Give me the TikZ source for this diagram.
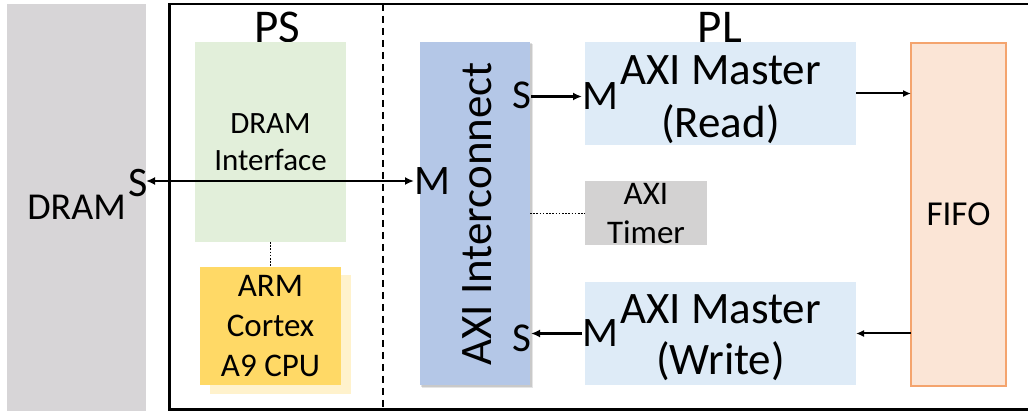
\documentclass[tikz,border=0pt]{standalone}
\usepackage{fontspec}
\setmainfont{Carlito}
\usetikzlibrary{arrows.meta}

\definecolor{dramgray}{HTML}{D7D5D7}
\definecolor{ifgreen}{HTML}{E2EFDA}
\definecolor{cpuyellow}{HTML}{FFD966}
\definecolor{cpushade}{HTML}{FFF2CC}
\definecolor{icblue}{HTML}{B4C7E7}
\definecolor{mstblue}{HTML}{DEEBF7}
\definecolor{timergray}{HTML}{D3D2D2}
\definecolor{fifofill}{HTML}{FBE5D6}
\definecolor{fifoedge}{HTML}{F4A46E}

\newcommand\fsz[2]{\fontsize{#1}{#2}\selectfont}

\tikzset{
  blockbox/.style={inner sep=0pt, outer sep=0pt, align=center},
  port/.style={inner sep=0pt, outer sep=0pt, font=\fsz{42}{50}},
  frameline/.style={line width=2.5pt},
  bus/.style={line width=2.5pt, -{Latex[length=9pt,width=8pt]}},
  busboth/.style={line width=2.5pt, {Latex[length=9pt,width=8pt]}-{Latex[length=9pt,width=8pt]}},
  flow/.style={line width=2pt, -{Latex[length=8pt,width=7pt]}},
  dotlink/.style={line width=1.6pt, dash pattern=on 1.6pt off 1.6pt},
}

\begin{document}
\begin{tikzpicture}[x=1pt,y=-1pt]
\useasboundingbox (0,0) rectangle (1028,411);

% external memory
\node[blockbox, fill=dramgray, minimum width=139, minimum height=407, font=\fsz{38}{45}] (dram) at (76.5,207.5) {DRAM};

% chip outline and PS / PL split
\draw[frameline] (1028,4) -- (169.5,4) -- (169.5,409.5) -- (1028,409.5);
\draw[line width=2pt, dash pattern=on 7pt off 5pt] (383,4) -- (383,409.5);
\node[inner sep=0pt, font=\fsz{47}{56}] (pslbl) at (277,27) {PS};
\node[inner sep=0pt, font=\fsz{47}{56}] (pllbl) at (720,27) {PL};

% processing system
\node[blockbox, fill=ifgreen, minimum width=151, minimum height=200, font=\fsz{31}{37}] (dri) at (270.5,142) {DRAM\\Interface};
\fill[cpushade] (210,275) rectangle (351,394);
\node[blockbox, fill=cpuyellow, minimum width=141, minimum height=118, font=\fsz{33}{40}] (arm) at (270.5,326) {ARM\\Cortex\\A9 CPU};

% interconnect with a soft drop shadow
\fill[black, opacity=0.10] (422,44) rectangle (533,388);
\fill[black, opacity=0.12] (421,43) rectangle (532,387);
\node[blockbox, fill=icblue, minimum width=110, minimum height=343] (ic) at (475,213.5) {};
\node[inner sep=0pt, rotate=90, font=\fsz{45}{54}] (ictext) at (477,214) {AXI Interconnect};

% programmable logic
\node[blockbox, fill=mstblue, minimum width=271, minimum height=103] (rd) at (720.5,93.5) {};
\node[inner sep=0pt, align=center, font=\fsz{45}{53}] (rdtext) at (720.5,100) {AXI Master\\(Read)};
\node[blockbox, fill=timergray, minimum width=122, minimum height=64, font=\fsz{33}{39}] (timer) at (646,213.5) {AXI\\Timer};
\node[blockbox, fill=mstblue, minimum width=271, minimum height=103] (wr) at (720.5,333.5) {};
\node[inner sep=0pt, align=center, font=\fsz{45}{51}] (wrtext) at (720.5,337.5) {AXI Master\\(Write)};
\node[blockbox, fill=fifofill, draw=fifoedge, line width=1.5pt, minimum width=95, minimum height=343, font=\fsz{35}{42}] (fifo) at (958.5,214.5) {FIFO};

% port labels
\node[port, anchor=east] (sdram) at (148,183.5) {S};
\node[port, anchor=west] (mic) at (414,181) {M};
\node[port, anchor=east, font=\fsz{41}{48}] (sicr) at (531,95.5) {S};
\node[port, anchor=west] (mrd) at (582,96.5) {M};
\node[port, anchor=east, font=\fsz{41}{48}] (sicw) at (531,338) {S};
\node[port, anchor=west] (mwr) at (582,333.5) {M};

% links
\draw[busboth] (dram.east |- mic.west) -- (mic.west);
\draw[bus] (sicr.east |- mrd.west) -- (mrd.west);
\draw[bus] (mwr.west) -- (sicw.east |- mwr.west);
\draw[flow] (rd.east) -- (rd.east -| fifo.west);
\draw[flow] (fifo.west |- wr.east) -- (wr.east);
\draw[dotlink] (dri.south) -- (arm.north);
\draw[dotlink] (ic.east |- timer.west) -- (timer.west);
\end{tikzpicture}
\end{document}
